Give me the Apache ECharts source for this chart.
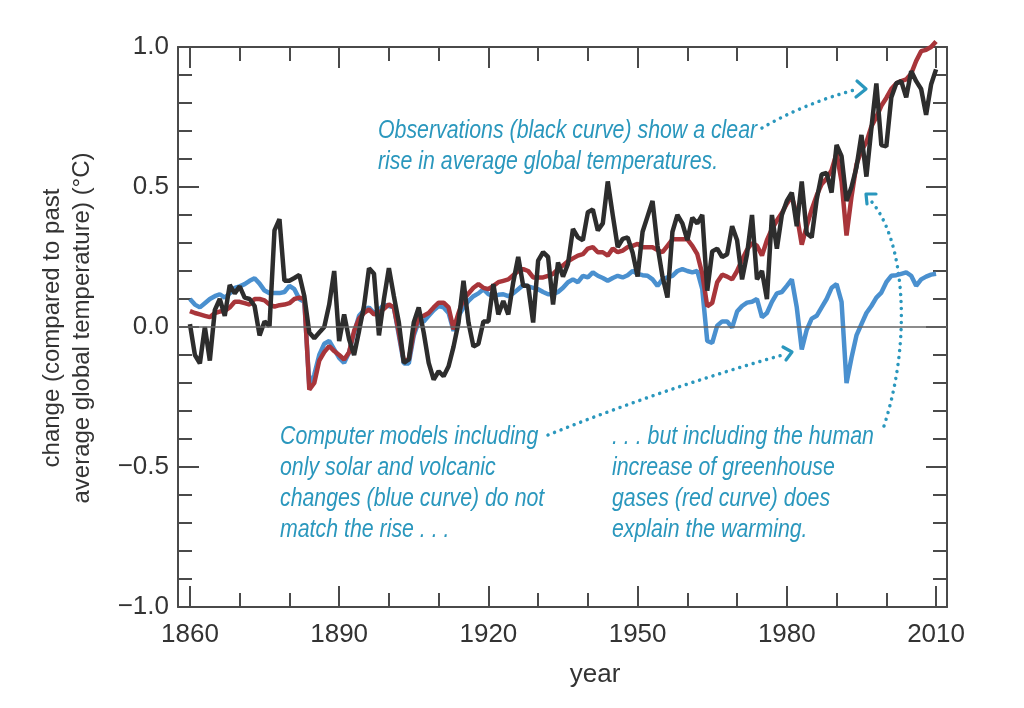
<!DOCTYPE html>
<html><head><meta charset="utf-8">
<script src="https://cdn.jsdelivr.net/npm/echarts@6/dist/echarts.min.js"></script>
<style>html,body{margin:0;padding:0;background:#fff}#c{width:1024px;height:708px}</style>
</head><body><div id="c"></div>
<script>
const startYear = 1860;
// Observations (black curve), 1860-2010
const observed = [
  0.01, -0.10, -0.13, 0.00, -0.12, 0.06, 0.10, 0.04, 0.15, 0.12,
  0.145, 0.105, 0.10, 0.075, -0.03, 0.02, 0.003, 0.345, 0.385, 0.165,
  0.165, 0.175, 0.186, 0.11, -0.02, -0.04, -0.02, 0.00, 0.08, 0.20,
  -0.05, 0.045, -0.044, -0.10, -0.014, 0.075, 0.21, 0.19, -0.03, 0.10,
  0.21, 0.11, 0.016, -0.128, -0.116, 0.016, 0.07, -0.02, -0.128, -0.188,
  -0.158, -0.176, -0.14, -0.07, 0.016, 0.165, 0.016, -0.07, -0.06, 0.02,
  0.02, 0.153, 0.045, 0.093, 0.045, 0.16, 0.25, 0.147, 0.147, 0.016,
  0.237, 0.267, 0.25, 0.08, 0.23, 0.18, 0.225, 0.35, 0.32, 0.31,
  0.41, 0.42, 0.345, 0.37, 0.52, 0.40, 0.285, 0.315, 0.32, 0.265,
  0.18, 0.34, 0.395, 0.45, 0.29, 0.18, 0.105, 0.34, 0.40, 0.37,
  0.31, 0.39, 0.37, 0.40, 0.13, 0.27, 0.28, 0.25, 0.26, 0.36,
  0.31, 0.17, 0.26, 0.40, 0.17, 0.20, 0.10, 0.40, 0.28, 0.40,
  0.45, 0.48, 0.36, 0.52, 0.335, 0.32, 0.455, 0.545, 0.55, 0.48,
  0.65, 0.61, 0.45, 0.50, 0.57, 0.686, 0.537, 0.71, 0.87, 0.65,
  0.645, 0.82, 0.87, 0.878, 0.82, 0.914, 0.878, 0.85, 0.758, 0.866,
  0.92
];
// Models with human greenhouse gases (red curve)
const modelGhg = [
  0.057, 0.05, 0.045, 0.04, 0.035, 0.05, 0.055, 0.057, 0.07, 0.09,
  0.09, 0.085, 0.08, 0.10, 0.10, 0.095, 0.08, 0.073, 0.078, 0.08,
  0.085, 0.10, 0.105, 0.10, -0.224, -0.20, -0.12, -0.09, -0.068, -0.086,
  -0.10, -0.116, -0.09, -0.014, 0.03, 0.05, 0.063, 0.045, 0.05, 0.065,
  0.081, 0.07, -0.02, -0.122, -0.116, -0.02, 0.034, 0.04, 0.05, 0.07,
  0.087, 0.087, 0.07, -0.008, 0.05, 0.10, 0.12, 0.14, 0.153, 0.14,
  0.135, 0.147, 0.16, 0.165, 0.17, 0.185, 0.20, 0.207, 0.20, 0.177,
  0.177, 0.177, 0.183, 0.19, 0.207, 0.22, 0.235, 0.245, 0.255, 0.26,
  0.28, 0.285, 0.267, 0.267, 0.255, 0.28, 0.267, 0.273, 0.285, 0.29,
  0.297, 0.285, 0.285, 0.285, 0.275, 0.267, 0.29, 0.313, 0.313, 0.313,
  0.313, 0.29, 0.26, 0.19, 0.074, 0.086, 0.16, 0.187, 0.18, 0.17,
  0.20, 0.24, 0.276, 0.30, 0.29, 0.255, 0.31, 0.35, 0.38, 0.407,
  0.44, 0.467, 0.40, 0.294, 0.36, 0.42, 0.47, 0.51, 0.53, 0.56,
  0.62, 0.52, 0.327, 0.465, 0.58, 0.63, 0.66, 0.716, 0.75, 0.79,
  0.818, 0.85, 0.87, 0.878, 0.884, 0.905, 0.95, 0.985, 0.99, 1.0,
  1.02
];
// Models with only solar and volcanic changes (blue curve)
const modelNatural = [
  0.10, 0.08, 0.07, 0.085, 0.10, 0.11, 0.117, 0.105, 0.12, 0.14,
  0.145, 0.153, 0.165, 0.174, 0.155, 0.13, 0.121, 0.121, 0.121, 0.125,
  0.147, 0.135, 0.10, 0.09, -0.21, -0.17, -0.10, -0.06, -0.05, -0.08,
  -0.11, -0.128, -0.09, -0.02, 0.04, 0.06, 0.07, 0.05, 0.06, 0.08,
  0.075, 0.07, -0.03, -0.13, -0.13, -0.03, 0.02, 0.02, 0.04, 0.06,
  0.075, 0.07, 0.05, -0.014, 0.04, 0.07, 0.093, 0.11, 0.12, 0.135,
  0.117, 0.11, 0.115, 0.117, 0.11, 0.12, 0.135, 0.15, 0.145, 0.14,
  0.135, 0.125, 0.117, 0.117, 0.125, 0.14, 0.16, 0.17, 0.16, 0.183,
  0.177, 0.195, 0.183, 0.175, 0.165, 0.175, 0.183, 0.177, 0.185, 0.20,
  0.19, 0.185, 0.183, 0.17, 0.147, 0.17, 0.177, 0.183, 0.20, 0.207,
  0.20, 0.195, 0.20, 0.135, -0.05, -0.057, 0.005, 0.02, 0.02, -0.002,
  0.055, 0.075, 0.087, 0.09, 0.10, 0.035, 0.05, 0.09, 0.12, 0.125,
  0.147, 0.17, 0.07, -0.08, -0.01, 0.03, 0.04, 0.07, 0.10, 0.14,
  0.153, 0.09, -0.20, -0.11, -0.03, 0.01, 0.05, 0.075, 0.105, 0.123,
  0.16, 0.183, 0.185, 0.19, 0.195, 0.183, 0.147, 0.17, 0.18, 0.187,
  0.19
];
const majorYears = [1860, 1890, 1920, 1950, 1980, 2010];
const minorYears = [1870, 1880, 1900, 1910, 1930, 1940, 1960, 1970, 1990, 2000];
const yAxisTitle = 'change (compared to past\naverage global temperature) (°C)';
const xAxisTitle = 'year';
const noteObs = 'Observations (black curve) show a clear\nrise in average global temperatures.';
const noteNatural = 'Computer models including\nonly solar and volcanic\nchanges (blue curve) do not\nmatch the rise . . .';
const noteGhg = '. . . but including the human\nincrease of greenhouse\ngases (red curve) does\nexplain the warming.';

const FONT = '"Liberation Sans", Arial, Helvetica, sans-serif';
const AX = '#4a4a4a';
const TEAL = '#2a97bd';
const toPairs = arr => arr.map((v, i) => [startYear + i, v]);

function xAx(pos, ticks, len, line, label) {
  return {
    type: 'value', position: pos, min: 1857.6, max: 2012.2,
    axisLine: { show: line, onZero: false, lineStyle: { color: AX, width: 2 } },
    axisTick: { show: true, inside: true, length: len, customValues: ticks, lineStyle: { color: AX, width: 2 } },
    axisLabel: { show: label, customValues: ticks, margin: 15, fontSize: 26, color: '#333', fontFamily: FONT,
      formatter: v => String(Math.round(v)) },
    splitLine: { show: false }
  };
}
function yAx(pos, label) {
  return {
    type: 'value', position: pos, min: -1, max: 1, interval: 0.5,
    axisLine: { show: true, onZero: false, lineStyle: { color: AX, width: 2 } },
    axisTick: { show: true, inside: true, length: 21, lineStyle: { color: AX, width: 2 } },
    minorTick: { show: true, splitNumber: 5, length: 14, lineStyle: { color: AX, width: 2 } },
    axisLabel: { show: label, margin: 9, fontSize: 26, color: '#333', fontFamily: FONT,
      formatter: v => (v < 0 ? '\u2212' : '') + Math.abs(v).toFixed(1) },
    splitLine: { show: false }, minorSplitLine: { show: false }
  };
}
function dotted(shape) {
  return { type: 'bezierCurve', shape: shape, silent: true,
    style: { stroke: TEAL, fill: null, lineWidth: 3.5, lineDash: [0.01, 7], lineCap: 'round' } };
}
function head(points) {
  return { type: 'polyline', shape: { points: points }, silent: true,
    style: { stroke: TEAL, fill: null, lineWidth: 3.2, lineCap: 'round', lineJoin: 'round' } };
}
function note(x, y, text) {
  return { type: 'text', x: x, y: y, scaleX: 0.82, silent: true,
    style: { text: text, fill: TEAL, fontSize: 26, fontStyle: 'italic', fontFamily: FONT,
      lineHeight: 31, align: 'left', verticalAlign: 'top' } };
}

const chart = echarts.init(document.getElementById('c'), null, { renderer: 'canvas' });
chart.setOption({
  backgroundColor: '#fff',
  animation: false,
  grid: { left: 178, right: 77, top: 47, bottom: 101, containLabel: false },
  xAxis: [
    xAx('bottom', majorYears, 21, true, true),
    xAx('bottom', minorYears, 14, false, false),
    xAx('top', majorYears, 21, true, false),
    xAx('top', minorYears, 14, false, false)
  ],
  yAxis: [yAx('left', true), yAx('right', false)],
  series: [
    { type: 'line', name: 'natural', data: toPairs(modelNatural), showSymbol: false,
      lineStyle: { color: '#4a90cf', width: 4.5 }, itemStyle: { color: '#4a90cf' }, z: 2,
      markLine: { silent: true, symbol: 'none', label: { show: false },
        lineStyle: { color: '#666', width: 1.5, type: 'solid' }, data: [{ yAxis: 0 }] } },
    { type: 'line', name: 'ghg', data: toPairs(modelGhg), showSymbol: false, clip: false,
      lineStyle: { color: '#a8353a', width: 4.5 }, itemStyle: { color: '#a8353a' }, z: 3 },
    { type: 'line', name: 'obs', data: toPairs(observed), showSymbol: false,
      lineStyle: { color: '#2d2d2d', width: 4.5 }, itemStyle: { color: '#2d2d2d' }, z: 4 }
  ],
  graphic: [
    { type: 'text', x: 67, y: 328, rotation: Math.PI / 2, silent: true,
      style: { text: yAxisTitle, fill: '#333', fontSize: 24, fontFamily: FONT, lineHeight: 30,
        align: 'center', verticalAlign: 'middle' } },
    { type: 'text', x: 595, y: 675, silent: true,
      style: { text: xAxisTitle, fill: '#333', fontSize: 26, fontFamily: FONT,
        align: 'center', verticalAlign: 'middle' } },
    note(378, 115, noteObs),
    note(280, 421, noteNatural),
    note(612, 421, noteGhg),
    dotted({ x1: 762, y1: 128, cpx1: 805, cpy1: 103, x2: 858, y2: 89 }),
    head([[857, 81], [866, 89], [856, 97]]),
    dotted({ x1: 548, y1: 435, cpx1: 665, cpy1: 388, x2: 786, y2: 354 }),
    head([[783, 347], [792, 352], [786, 360]]),
    dotted({ x1: 884, y1: 426, cpx1: 912, cpy1: 340, cpx2: 905, cpy2: 240, x2: 871, y2: 201 }),
    head([[867, 204], [866, 194], [876, 194]])
  ]
});
</script></body></html>
